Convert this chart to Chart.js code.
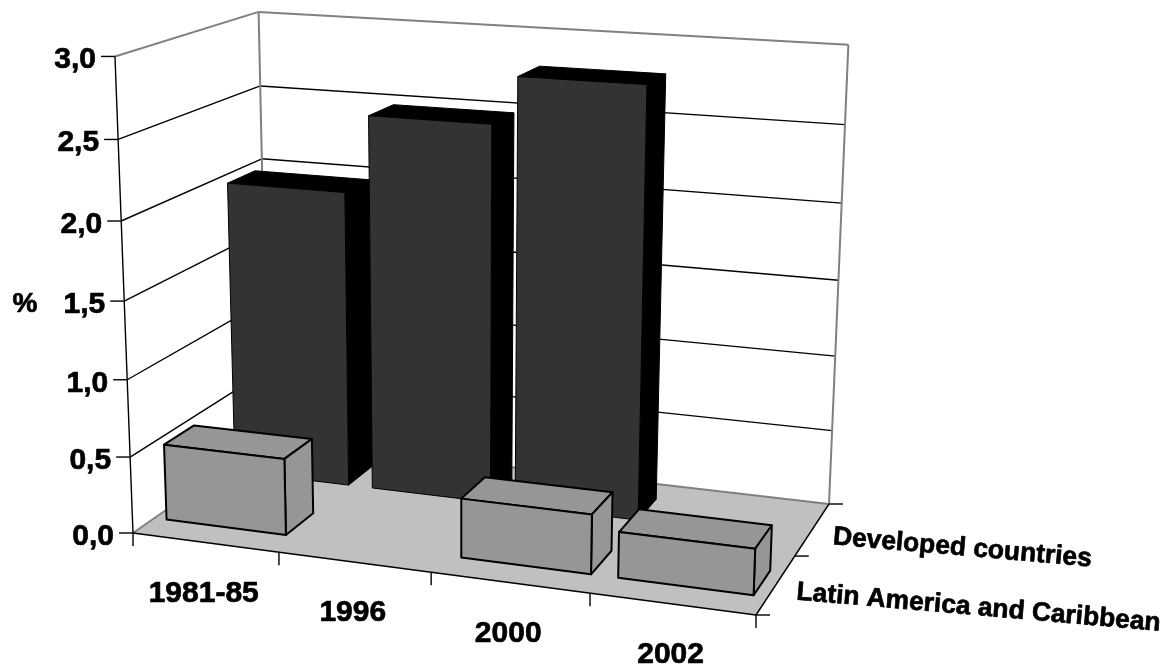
<!DOCTYPE html>
<html>
<head>
<meta charset="utf-8">
<title>Agricultural share, 1981-2002</title>
<script src="https://cdn.jsdelivr.net/npm/chart.js@4/dist/chart.umd.js"></script>
<style>
  html, body { margin: 0; background: #fff; }
  canvas { display: block; }
</style>
</head>
<body>
<canvas id="box-chart" width="1173" height="672"></canvas>
<script>
const periods = ["1981-85", "1996", "2000", "2002"];
const regions = ["Latin America and Caribbean", "Developed countries"];
const latinAmerica = [0.5, null, 0.38, 0.29];
const developed = [1.98, 2.49, 2.8, null];
const unitLabel = "%";

const FONT = '"Liberation Sans", Arial, sans-serif';
const DEPTH_FILL = 0.42; // share of a depth row taken by a box

// floor corners on screen: front-left, front-right, back-right, back-left
const floor = [[133, 533], [756, 615], [829, 504], [268, 439]];
// what a full-height column adds to the homogeneous coordinates
const lift = [-24, -479.5, -0.052];

// unit square -> floor quad
const sx = floor[0][0] - floor[1][0] + floor[2][0] - floor[3][0];
const sy = floor[0][1] - floor[1][1] + floor[2][1] - floor[3][1];
const dx1 = floor[1][0] - floor[2][0], dx2 = floor[3][0] - floor[2][0];
const dy1 = floor[1][1] - floor[2][1], dy2 = floor[3][1] - floor[2][1];
const den = dx1 * dy2 - dx2 * dy1;
const wu = (sx * dy2 - dx2 * sy) / den;
const wv = (dx1 * sy - sx * dy1) / den;
const xu = floor[1][0] - floor[0][0] + wu * floor[1][0];
const xv = floor[3][0] - floor[0][0] + wv * floor[3][0];
const yu = floor[1][1] - floor[0][1] + wu * floor[1][1];
const yv = floor[3][1] - floor[0][1] + wv * floor[3][1];

// u along periods, v into the depth, h up, all 0..1
function project(u, v, h) {
  const w = wu * u + wv * v + 1 + lift[2] * h;
  return [
    (xu * u + xv * v + floor[0][0] + lift[0] * h) / w,
    (yu * u + yv * v + floor[0][1] + lift[1] * h) / w,
  ];
}

function poly(ctx, pts, fill, stroke, lineWidth) {
  ctx.beginPath();
  pts.forEach((p, i) => (i ? ctx.lineTo(p[0], p[1]) : ctx.moveTo(p[0], p[1])));
  ctx.closePath();
  if (fill) {
    ctx.fillStyle = fill;
    ctx.fill();
  }
  if (stroke) {
    ctx.strokeStyle = stroke;
    ctx.lineWidth = lineWidth;
    ctx.lineJoin = "round";
    ctx.stroke();
  }
}

function line(ctx, a, b, color, lineWidth) {
  ctx.beginPath();
  ctx.moveTo(a[0], a[1]);
  ctx.lineTo(b[0], b[1]);
  ctx.strokeStyle = color;
  ctx.lineWidth = lineWidth;
  ctx.stroke();
}

// bold labels get a hairline stroke so they sit heavier on the page
function label(ctx, text, x, y) {
  ctx.fillText(text, x, y);
  ctx.lineWidth = 0.7;
  ctx.strokeStyle = "#000";
  ctx.lineJoin = "round";
  ctx.strokeText(text, x, y);
}

function depthOf(chart, region) {
  const s = chart.scales.depth;
  return (s.bottom - s.getPixelForValue(region)) / s.height;
}

// Bars are laid out by the usual bar controller, then drawn as boxes
class Box3dController extends Chart.BarController {
  static id = "box3d";
  static defaults = {};
  static overrides = Chart.BarController.overrides;

  draw() {
    const chart = this.chart;
    const ctx = chart.ctx;
    const area = chart.chartArea;
    const ds = this.getDataset();
    const meta = this.getMeta();
    const vc = depthOf(chart, ds.label);
    const half = DEPTH_FILL / regions.length / 2;
    const v0 = vc - half, v1 = vc + half;

    meta.data.forEach((bar, i) => {
      if (this.getParsed(i).y === null) return;
      const { x, y, base, width } = bar.getProps(["x", "y", "base", "width"], true);
      const u0 = (x - width / 2 - area.left) / area.width;
      const u1 = (x + width / 2 - area.left) / area.width;
      const h = (base - y) / area.height;
      const stroke = bar.options.borderColor;
      const lw = bar.options.borderWidth;
      poly(ctx, [project(u0, v0, h), project(u1, v0, h), project(u1, v1, h), project(u0, v1, h)], ds.sideColor, stroke, lw);
      poly(ctx, [project(u1, v0, 0), project(u1, v1, 0), project(u1, v1, h), project(u1, v0, h)], ds.sideColor, stroke, lw);
      poly(ctx, [project(u0, v0, 0), project(u1, v0, 0), project(u1, v0, h), project(u0, v0, h)], bar.options.backgroundColor, stroke, lw);
    });
  }
}
Chart.register(Box3dController);

const roomPlugin = {
  id: "room",
  beforeDatasetsDraw(chart) {
    const ctx = chart.ctx;
    const yScale = chart.scales.y;
    const GREY = "#808080";
    const INK = "#000";

    poly(ctx, [project(0, 0, 0), project(1, 0, 0), project(1, 1, 0), project(0, 1, 0)], "#c0c0c0");

    yScale.ticks.forEach((t) => {
      const h = (yScale.bottom - yScale.getPixelForValue(t.value)) / yScale.height;
      if (h === 0) return;
      const color = h === 1 ? GREY : INK;
      const lw = h === 1 ? 2 : 1.4;
      line(ctx, project(0, 0, h), project(0, 1, h), color, lw);
      line(ctx, project(0, 1, h), project(1, 1, h), color, lw);
    });

    line(ctx, project(0, 1, 0), project(0, 1, 1), GREY, 2);
    line(ctx, project(1, 1, 0), project(1, 1, 1), GREY, 2);
    line(ctx, project(0, 0, 0), project(0, 1, 0), GREY, 2);
    line(ctx, project(0, 1, 0), project(1, 1, 0), GREY, 2);
    line(ctx, project(0, 0, 0), project(0, 0, 1), INK, 1.4);
    line(ctx, project(0, 0, 0), project(1, 0, 0), INK, 1.4);
    line(ctx, project(1, 0, 0), project(1, 1, 0), INK, 1.4);

    // period ticks below the front edge
    for (let i = 0; i <= periods.length; i++) {
      const p = project(i / periods.length, 0, 0);
      line(ctx, p, [p[0], p[1] + 13], INK, 1.4);
    }
    // depth ticks on the right edge
    for (let i = 0; i <= regions.length; i++) {
      const p = project(1, i / regions.length, 0);
      line(ctx, p, [p[0] + 14, p[1]], INK, 1.4);
    }

    ctx.fillStyle = INK;
    ctx.textBaseline = "middle";

    // value axis
    ctx.font = "bold 30px " + FONT;
    ctx.textAlign = "right";
    yScale.ticks.forEach((t) => {
      const h = (yScale.bottom - yScale.getPixelForValue(t.value)) / yScale.height;
      const p = project(0, 0, h);
      line(ctx, p, [p[0] - 14, p[1]], INK, 1.4);
      label(ctx, t.label, p[0] - 19, p[1] + 3.5);
    });

    // period labels
    ctx.font = "bold 30px " + FONT;
    ctx.textAlign = "center";
    chart.scales.x.ticks.forEach((t, i) => {
      const p = project((i + 0.5) / periods.length, 0, 0);
      label(ctx, t.label, p[0] - 1.5, p[1] + 51);
    });

    // unit
    ctx.font = "bold 28px " + FONT;
    label(ctx, unitLabel, 25, 304);

    // region labels run along the depth rows
    ctx.font = "bold 26.4px " + FONT;
    ctx.textAlign = "left";
    ctx.textBaseline = "alphabetic";
    regions.forEach((region) => {
      const p = project(1, depthOf(chart, region), 0);
      ctx.save();
      ctx.translate(p[0] + 20, p[1] + 15);
      ctx.rotate((4.9 * Math.PI) / 180);
      label(ctx, region, 0, 0);
      ctx.restore();
    });
  },
};

new Chart(document.getElementById("box-chart"), {
  type: "box3d",
  data: {
    labels: periods,
    datasets: [
      {
        label: regions[0],
        data: latinAmerica,
        backgroundColor: "#969696",
        sideColor: "#969696",
        borderColor: "#000",
        borderWidth: 2,
      },
      {
        label: regions[1],
        data: developed,
        backgroundColor: "#333333",
        sideColor: "#000",
        borderColor: "#000",
        borderWidth: 1,
      },
    ],
  },
  options: {
    responsive: false,
    animation: false,
    events: [],
    layout: { padding: 0 },
    datasets: { box3d: { grouped: false, categoryPercentage: 0.83, barPercentage: 1 } },
    plugins: { legend: { display: false }, tooltip: { enabled: false } },
    scales: {
      x: { type: "category", display: false, offset: true },
      y: {
        type: "linear",
        display: false,
        min: 0,
        max: 3,
        ticks: { stepSize: 0.5, callback: (v) => v.toFixed(1).replace(".", ",") },
      },
      depth: { type: "category", axis: "y", display: false, offset: true, reverse: true, labels: regions },
    },
  },
  plugins: [roomPlugin],
});
</script>
</body>
</html>
